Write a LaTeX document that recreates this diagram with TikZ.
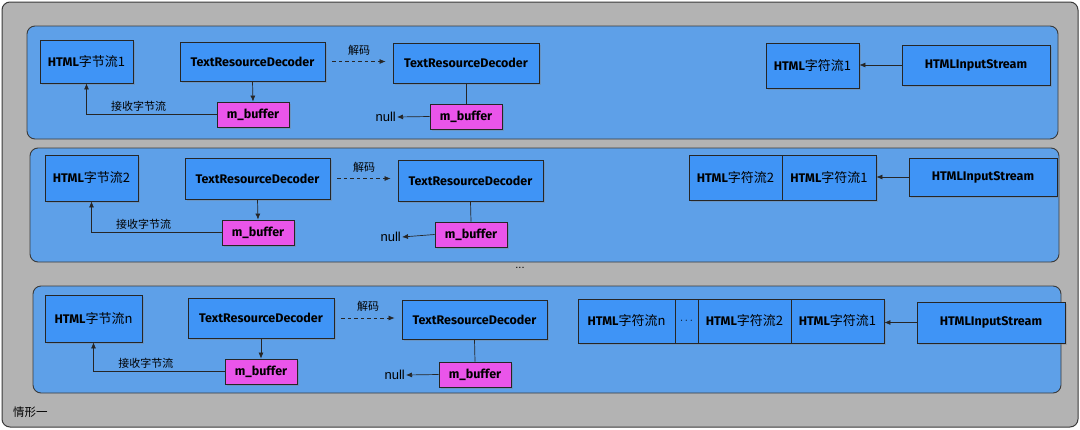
\documentclass[tikz,border=0pt]{standalone}
\usepackage{fontspec}
\setmainfont{Liberation Sans}
\newfontfamily\cjk{Noto Sans CJK SC}
\newfontfamily\boxfont{Fira Sans}
\usetikzlibrary{arrows.meta,shadows}
\definecolor{outergray}{HTML}{B3B3B3}
\definecolor{panelblue}{HTML}{5EA0E8}
\definecolor{boxblue}{HTML}{3F94F6}
\definecolor{bufmag}{HTML}{EA55EA}
\definecolor{edgegray}{HTML}{3A3A3A}
\tikzset{
  panel/.style={draw=edgegray, line width=0.9pt, fill=panelblue, rounded corners=8pt},
  box/.style={draw=black!85, line width=0.8pt, fill=boxblue, inner sep=2pt,
    font=\boxfont\fontsize{12.5}{14}\selectfont\bfseries,
    drop shadow={shadow xshift=1.5pt, shadow yshift=-1.5pt, opacity=0.35}},
  bufbox/.style={box, fill=bufmag, minimum width=72pt, minimum height=25pt},
  arr/.style={draw=black!85, line width=0.7pt, -{Latex[length=6pt,width=5pt]}},
  plain/.style={draw=black!85, line width=0.7pt},
  dasharr/.style={arr, dashed, dash pattern=on 3.5pt off 3pt, shorten <=7pt, shorten >=7pt},
  lbl/.style={font=\cjk\fontsize{11}{13}\selectfont, inner sep=1pt},
  nulllbl/.style={font=\fontsize{13}{15}\selectfont, inner sep=1pt}
}
\newcommand{\htmlcn}[1]{HTML{\cjk\mdseries\fontsize{13}{15}\selectfont #1}}
\begin{document}
\begin{tikzpicture}[x=1pt,y=-1pt]
\useasboundingbox (0,0) rectangle (1080,429);
\draw[draw=edgegray, line width=1pt, fill=outergray, rounded corners=8pt] (2,2) rectangle (1078,427);
\node[lbl, anchor=west, font=\cjk\fontsize{11.5}{13}\selectfont] (case) at (12,412) {情形一};

% ---------- Panel 1 ----------
\draw[panel] (27,26) rectangle (1058,139);
\node[box, minimum width=93pt, minimum height=43pt] (h1) at (86.5,61.5) {\htmlcn{字节流1}};
\node[box, minimum width=145pt, minimum height=39pt] (t1a) at (252.5,61.5) {TextResourceDecoder};
\node[bufbox] (m1a) at (253,114.5) {m\_buffer};
\node[box, minimum width=146pt, minimum height=40pt] (t1b) at (466,63) {TextResourceDecoder};
\node[bufbox] (m1b) at (466,116.5) {m\_buffer};
\node[box, minimum width=93pt, minimum height=45pt] (c11) at (812.5,65.5) {\htmlcn{字符流1}};
\node[box, minimum width=148pt, minimum height=40pt] (in1) at (976,65) {HTMLInputStream};
\node[nulllbl, anchor=east] (n1) at (397,117) {null};
\draw[arr] (t1a.south) -- (m1a.north);
\draw[plain] (t1b.south) -- (m1b.north);
\draw[arr] (m1b.west) -- (n1.east);
\draw[arr] (m1a.west) -| node[lbl, pos=0.3, above=2pt] (r1) {接收字节流} (h1.south);
\draw[dasharr] (t1a.east) -- (t1a.east -| t1b.west) node[lbl, midway, above=5pt] (d1) {解码};
\draw[arr] (in1.west) -- (in1.west -| c11.east);

% ---------- Panel 2 ----------
\draw[panel] (30,148) rectangle (1059,262);
\node[box, minimum width=93pt, minimum height=46pt] (h2) at (91.5,178) {\htmlcn{字节流2}};
\node[box, minimum width=145pt, minimum height=41pt] (t2a) at (257.5,178.5) {TextResourceDecoder};
\node[bufbox] (m2a) at (258,232.5) {m\_buffer};
\node[box, minimum width=145pt, minimum height=41pt] (t2b) at (470.5,180.5) {TextResourceDecoder};
\node[bufbox] (m2b) at (471,234.5) {m\_buffer};
\node[box, minimum width=93pt, minimum height=45pt] (c22) at (735.5,177.5) {\htmlcn{字符流2}};
\node[box, minimum width=94pt, minimum height=45pt] (c21) at (829,177.5) {\htmlcn{字符流1}};
\node[box, minimum width=148pt, minimum height=38pt] (in2) at (983,177) {HTMLInputStream};
\node[nulllbl, anchor=east] (n2) at (402,237) {null};
\draw[arr] (t2a.south) -- (m2a.north);
\draw[plain] (t2b.south) -- (m2b.north);
\draw[arr] (m2b.west) -- (n2.east);
\draw[arr] (m2a.west) -| node[lbl, pos=0.3, above=2pt] (r2) {接收字节流} (h2.south);
\draw[dasharr] (t2a.east) -- (t2a.east -| t2b.west) node[lbl, midway, above=5pt] (d2) {解码};
\draw[arr] (in2.west) -- (in2.west -| c21.east);

\node[font=\fontsize{11}{12}\selectfont, inner sep=0pt] (dots) at (520,268) {...};

% ---------- Panel 3 ----------
\draw[panel] (33,286) rectangle (1061,393);
\node[box, minimum width=97pt, minimum height=47pt] (h3) at (93.5,318.5) {\htmlcn{字节流n}};
\node[box, minimum width=146pt, minimum height=40pt] (t3a) at (261,318) {TextResourceDecoder};
\node[bufbox] (m3a) at (261,371.5) {m\_buffer};
\node[box, minimum width=145pt, minimum height=39pt] (t3b) at (474.5,319.5) {TextResourceDecoder};
\node[bufbox] (m3b) at (475,374.5) {m\_buffer};
\node[box, minimum width=97pt, minimum height=44pt] (c3n) at (626.5,321) {\htmlcn{字符流n}};
\node[box, minimum width=23pt, minimum height=44pt, font=\fontsize{11}{13}\selectfont] (c3d) at (686.5,321) {$\cdots$};
\node[box, minimum width=93pt, minimum height=44pt] (c32) at (744.5,321) {\htmlcn{字符流2}};
\node[box, minimum width=93pt, minimum height=44pt] (c31) at (837.5,321) {\htmlcn{字符流1}};
\node[box, minimum width=148pt, minimum height=41pt] (in3) at (991,322.5) {HTMLInputStream};
\node[nulllbl, anchor=east] (n3) at (406,375) {null};
\draw[arr] (t3a.south) -- (m3a.north);
\draw[plain] (t3b.south) -- (m3b.north);
\draw[arr] (m3b.west) -- (n3.east);
\draw[arr] (m3a.west) -| node[lbl, pos=0.3, above=2pt] (r3) {接收字节流} (h3.south);
\draw[dasharr] (t3a.east) -- (t3a.east -| t3b.west) node[lbl, midway, above=5pt] (d3) {解码};
\draw[arr] (in3.west) -- (in3.west -| c31.east);
\end{tikzpicture}
\end{document}
